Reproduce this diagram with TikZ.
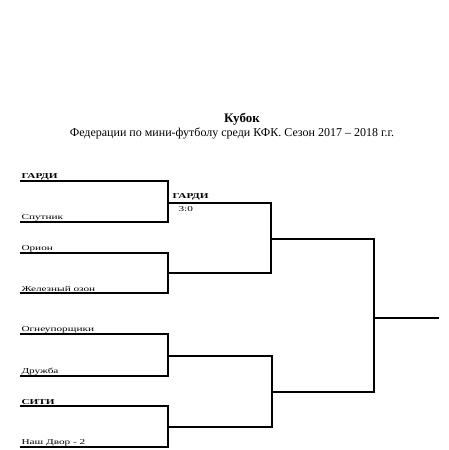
\documentclass[tikz,border=0pt]{standalone}
\usepackage{fontspec}
\setmainfont{Liberation Serif}
\begin{document}
\begin{tikzpicture}[x=1pt,y=-1pt,
  br/.style={draw=black,line width=1.3pt},
  team/.style={anchor=south west,inner sep=0.8pt,font=\fontsize{7.5}{9}\selectfont,xscale=1.5},
  bteam/.style={team,font=\fontsize{7.5}{9}\selectfont\bfseries}]
\useasboundingbox (0,0) rectangle (448,450);
\node[font=\fontsize{13}{15}\selectfont\bfseries] (title) at (242,119) {Кубок};
\node[font=\fontsize{12}{14}\selectfont] (sub) at (232,133) {Федерации по мини-футболу среди КФК. Сезон 2017 – 2018 г.г.};
% first round coordinates
\foreach \n/\y in {a/181,b/222,c/253,d/293,e/334,f/376,g/406,h/447}{
  \coordinate (\n0) at (20,\y);
  \coordinate (\n1) at (168,\y);
}
\node[bteam] (ta) at (a0) {ГАРДИ};
\node[team] (tb) at (b0) {Спутник};
\node[team] (tc) at (c0) {Орион};
\node[team] (td) at (d0) {Железный озон};
\node[team] (te) at (e0) {Огнеупорщики};
\node[team] (tf) at (f0) {Дружба};
\node[bteam] (tg) at (g0) {СИТИ};
\node[team] (th) at (h0) {Наш Двор - 2};
\draw[br] (a0) -- (a1) -- (b1) -- (b0);
\draw[br] (c0) -- (c1) -- (d1) -- (d0);
\draw[br] (e0) -- (e1) -- (f1) -- (f0);
\draw[br] (g0) -- (g1) -- (h1) -- (h0);
% second round
\coordinate (m1) at (168,203); \coordinate (m1r) at (271,203);
\coordinate (m2) at (168,273); \coordinate (m2r) at (271,273);
\coordinate (m3) at (168,356); \coordinate (m3r) at (272,356);
\coordinate (m4) at (168,427); \coordinate (m4r) at (272,427);
\draw[br] (m1) -- (m1r) -- (m2r) -- (m2);
\draw[br] (m3) -- (m3r) -- (m4r) -- (m4);
\node[bteam] (w1) at (171,201) {ГАРДИ};
\node[team,anchor=north west] (s1) at (177,205.5) {3:0};
% semifinal
\coordinate (s1l) at (271,239); \coordinate (s1r) at (374,239);
\coordinate (s2l) at (272,392); \coordinate (s2r) at (374,392);
\draw[br] (s1l) -- (s1r) -- (s2r) -- (s2l);
\coordinate (fl) at (374,318); \coordinate (fr) at (439,318);
\draw[br] (fl) -- (fr);
\end{tikzpicture}
\end{document}
